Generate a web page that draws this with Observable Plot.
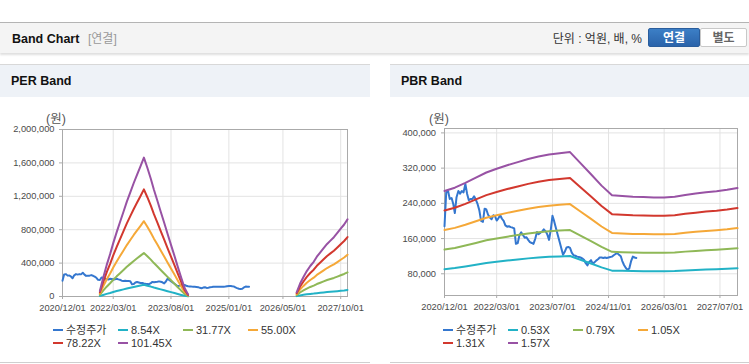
<!DOCTYPE html>
<html><head><meta charset="utf-8">
<script src="https://cdn.jsdelivr.net/npm/d3@7"></script>
<script src="https://cdn.jsdelivr.net/npm/@observablehq/plot@0.6"></script>
<style>
body{margin:0;width:749px;height:364px;position:relative;background:#fff;font-family:"Liberation Sans",Arial,"Noto Sans CJK KR",sans-serif;overflow:hidden}
.abs{position:absolute}
#top{left:0;top:22px;width:749px;height:30px;background:#f4f4f4;border-top:1px solid #b4b4b4;box-shadow:0 2px 2px rgba(0,0,0,0.13)}
#title{left:12px;top:31px;font-size:12.5px;font-weight:bold;color:#111;line-height:16px}
#sub{left:88px;top:31px;font-size:12px;color:#999;line-height:16px}
#unit{right:107px;top:31px;font-size:12px;color:#333;line-height:16px}
.btn{top:28px;height:19px;line-height:19px;text-align:center;font-size:12px;font-weight:bold;box-sizing:border-box;border-radius:2px}
#b1{left:648px;width:52px;color:#fff;background:linear-gradient(#3c7fc6,#2a63aa);border:1px solid #2a5d9c}
#b2{left:700px;width:47px;color:#666;background:#fff;border:1px solid #c8c8c8}
.panel{top:64px;height:297px;border-top:1px solid #d8d8d8;border-bottom:1px solid #cfcfcf}
.phead{left:0;top:0;right:0;height:32px;background:#eef2f7}
.ptitle{left:11px;top:8px;font-size:12.5px;font-weight:bold;color:#111;line-height:16px}
.unitlbl{font-size:12.5px;color:#555;line-height:14px}
.legend{font-size:11px;color:#333}
.item{position:absolute;height:13px;line-height:13px;white-space:nowrap}
.sw{display:inline-block;width:10px;height:2px;vertical-align:middle;margin-right:3px;position:relative;top:-1px}
</style></head>
<body>
<div id="top" class="abs"></div>
<div id="title" class="abs">Band Chart</div>
<div id="sub" class="abs">[연결]</div>
<div id="unit" class="abs">단위 : 억원, 배, %</div>
<div id="b1" class="abs btn">연결</div>
<div id="b2" class="abs btn">별도</div>
<div class="abs panel" style="left:0;width:370px"><div class="abs phead"></div><div class="abs ptitle">PER Band</div></div>
<div class="abs panel" style="left:390px;width:359px"><div class="abs phead"></div><div class="abs ptitle">PBR Band</div></div>
<div class="abs unitlbl" style="left:46px;top:112px">(원)</div>
<div class="abs unitlbl" style="left:429px;top:112px">(원)</div>
<div id="per" class="abs" style="left:0;top:100px"></div>
<div id="pbr" class="abs" style="left:390px;top:100px"></div>
<div id="perLeg" class="abs legend" style="left:53px;top:324px;width:300px;height:30px"></div>
<div id="pbrLeg" class="abs legend" style="left:443px;top:324px;width:300px;height:30px"></div>
<script>
// ---- data ----
const priceLabel = "수정주가";
const priceStart = "2020-12-01"; // semi-monthly closes (1st and 16th of each month)
const priceValues = [188000,265000,268000,250000,252000,238000,218000,254000,268000,262000,
268000,265000,284000,262000,247000,250000,250000,256000,248000,238000,
224000,200000,198000,228000,226000,214000,208000,204000,213000,210000,
201000,206000,213000,205000,200000,190000,187000,188000,186000,185000,
183000,148000,150000,168000,174000,168000,162000,163000,157000,152000,
150000,148000,160000,175000,170000,173000,176000,181000,177000,170000,
157000,180000,212000,199000,183000,168000,153000,138000,123000,130000,
140000,141000,139000,128000,122000,121000,119000,118000,117000,115000,
112000,104000,99000,107000,111000,103000,106000,110000,113000,117000,
117000,116000,117000,116000,117000,118000,119000,122000,125000,127000,
123000,120000,109000,100000,93000,89000,92000,108000,119000,117000,116000];

const perLabels = ["8.54X","31.77X","55.00X","78.22X","101.45X"];
const perMultiples = [8.54,31.77,55.00,78.22,101.45];
const perEpsDates = ["2021-11","2021-12","2022-01","2022-02","2022-03","2022-04","2022-05","2022-06","2022-07","2022-08","2022-09","2022-10","2022-11","2022-12",
"2023-01","2023-02","2023-03","2023-04","2023-05","2023-06","2023-07","2023-08","2023-09","2023-10","2023-11","2023-12","2024-01","2024-02",
"2026-09","2026-10","2026-11","2026-12","2027-01","2027-02","2027-03","2027-04","2027-05","2027-06","2027-07","2027-08","2027-09","2027-10","2027-11","2027-12"];
const perEps = [650,2200,3700,5000,6300,7600,8800,10000,11200,12300,13400,14400,15400,16400,
15200,13900,12600,11300,10000,8700,7400,6100,4800,3500,2200,1000,250,null,
500,1500,2300,3000,3600,4100,4700,5200,5700,6200,6600,7000,7500,8000,8500,9100];

const pbrLabels = ["0.53X","0.79X","1.05X","1.31X","1.57X"];
const pbrMultiples = [0.53,0.79,1.05,1.31,1.57];
const pbrBpsDates = ["2020-12","2021-03","2021-06","2021-09","2021-12","2022-03","2022-06","2022-09","2022-12","2023-03","2023-06","2023-09","2023-12",
"2024-03","2024-06","2024-09","2024-12","2025-03","2025-06","2025-09","2025-12","2026-03","2026-06","2026-09","2026-12","2027-03","2027-06","2027-09","2027-12"];
const pbrBps = [170800,175500,182400,190000,197500,203000,208000,212500,217000,220500,223500,225500,227000,
211000,195000,178500,164500,163500,162500,162000,161500,161500,162500,165000,167000,169000,170500,172500,175000];

const perXTicks = ["2020/12/01","2022/03/01","2023/08/01","2025/01/01","2026/05/01","2027/10/01"];
const pbrXTicks = ["2020/12/01","2022/03/01","2023/07/01","2024/11/01","2026/03/01","2027/07/01"];
const perYTicks = [0,400000,800000,1200000,1600000,2000000];
const pbrYTicks = [80000,160000,240000,320000,400000];
const xDomain = ["2020/12/01","2027/12/01"];

const priceColor = "#3477cf";
const bandColors = ["#22b2c6","#8fb857","#f5a838","#d2382e","#9852a4"];

// ---- build ----
const pTick = d3.utcParse("%Y/%m/%d");
const pMonth = d3.utcParse("%Y-%m");
const fmt = d3.utcFormat("%Y/%m/%d");
const start = d3.utcParse("%Y-%m-%d")(priceStart);
const priceRows = priceValues.map((v,i)=>({date: d3.utcDay.offset(d3.utcMonth.offset(start, Math.floor(i/2)), (i%2)*15), value: v, series: priceLabel}));

function bandRows(labels, mults, dates, base){
  const rows = [];
  labels.forEach((lab,k)=>{
    dates.forEach((d,j)=>{
      rows.push({date: pMonth(d), value: base[j]==null ? NaN : base[j]*mults[k], series: lab});
    });
  });
  return rows;
}

function makeChart(o){
  const labels = [priceLabel, ...o.labels];
  const colors = [priceColor, ...bandColors];
  const xt = o.xTicks.map(pTick);
  return Plot.plot({
    width: o.width, height: o.height,
    marginLeft: o.ml, marginRight: o.mr, marginTop: o.mt, marginBottom: 20,
    style: {fontFamily: '"Liberation Sans", Arial, sans-serif', fontSize: "9.3px", color: "#4a4a4a", background: "transparent", overflow: "visible"},
    x: {type: "utc", domain: xDomain.map(pTick)},
    y: {domain: o.yDomain},
    color: {domain: labels, range: colors},
    marks: [
      Plot.gridX(xt, {stroke: "#e3e3e3", strokeOpacity: 1}),
      Plot.gridY(o.yTicks, {stroke: "#e3e3e3", strokeOpacity: 1}),
      Plot.axisX(xt, {tickFormat: fmt, tickSize: 3, tickPadding: 5, stroke: "#aaa", fill: "#4a4a4a", label: null}),
      Plot.axisY(o.yTicks, {tickFormat: d3.format(","), tickSize: 3, tickPadding: o.tp, stroke: "#aaa", fill: "#4a4a4a", label: null}),
      Plot.frame({stroke: "#aaa"}),
      Plot.line(priceRows, {x: "date", y: "value", z: "series", stroke: "series", strokeWidth: 2}),
      Plot.line(o.bands, {x: "date", y: "value", z: "series", stroke: "series", strokeWidth: 2})
    ]
  });
}

document.getElementById("per").append(makeChart({
  width: 370, height: 216, ml: 62, mr: 23, mt: 29, tp: 5,
  labels: perLabels, xTicks: perXTicks, yTicks: perYTicks, yDomain: [0, 2000000],
  bands: bandRows(perLabels, perMultiples, perEpsDates, perEps)
}));
document.getElementById("pbr").append(makeChart({
  width: 359, height: 215, ml: 54, mr: 12, mt: 28, tp: 5.5,
  labels: pbrLabels, xTicks: pbrXTicks, yTicks: pbrYTicks, yDomain: [30700, 410000],
  bands: bandRows(pbrLabels, pbrMultiples, pbrBpsDates, pbrBps)
}));

function legend(id, labels){
  const el = document.getElementById(id);
  const all = [priceLabel, ...labels];
  const colors = [priceColor, ...bandColors];
  all.forEach((lab,i)=>{
    const d = document.createElement("div");
    d.className = "item";
    d.style.left = (i%4)*65 + "px";
    d.style.top = Math.floor(i/4)*12.6 + "px";
    d.innerHTML = `<span class="sw" style="background:${colors[i]}"></span>${lab}`;
    el.append(d);
  });
}
legend("perLeg", perLabels);
legend("pbrLeg", pbrLabels);
</script>
</body></html>
